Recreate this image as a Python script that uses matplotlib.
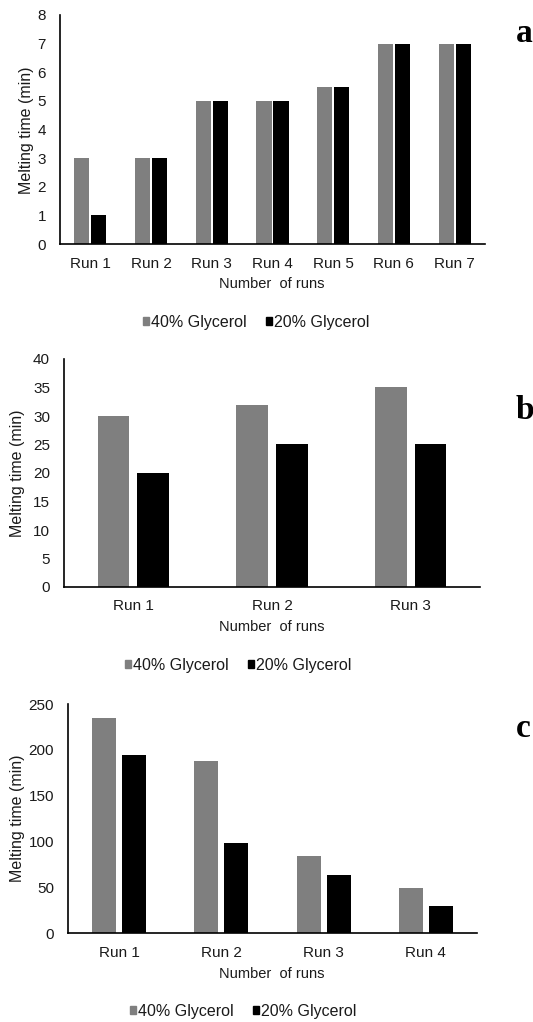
import matplotlib.pyplot as plt
from matplotlib.patches import Patch

plt.rcParams['font.family'] = ['Liberation Sans', 'DejaVu Sans']

# data
runs_a = ["Run 1", "Run 2", "Run 3", "Run 4", "Run 5", "Run 6", "Run 7"]
gly40_a = [3, 3, 5, 5, 5.5, 7, 7]
gly20_a = [1, 3, 5, 5, 5.5, 7, 7]

runs_b = ["Run 1", "Run 2", "Run 3"]
gly40_b = [30, 32, 35]
gly20_b = [20, 25, 25]

runs_c = ["Run 1", "Run 2", "Run 3", "Run 4"]
gly40_c = [235, 188, 84, 49]
gly20_c = [194, 98, 63, 30]

series_names = ["40% Glycerol", "20% Glycerol"]
yticks_a = [0, 1, 2, 3, 4, 5, 6, 7, 8]
yticks_b = [0, 5, 10, 15, 20, 25, 30, 35, 40]
yticks_c = [0, 50, 100, 150, 200, 250]

GRAY = "#7f7f7f"
BLACK = "#000000"
TXT = "#1a1a1a"
W, H = 533, 1022

fig = plt.figure(figsize=(W / 100, H / 100), dpi=100)


def px(x, y):
    # pixel position (from top-left) -> figure fraction
    return x / W, 1 - y / H


def panel(box, runs, v40, v20, yticks, bw, off, letter, letter_pos,
          ylab_pos, xlab_pos, leg_pos):
    left, top, right, bottom = box
    ax = fig.add_axes([left / W, 1 - bottom / H, (right - left) / W, (bottom - top) / H])
    x = list(range(len(runs)))
    ax.bar([i - off for i in x], v40, width=bw, color=GRAY)
    ax.bar([i + off for i in x], v20, width=bw, color=BLACK)
    ax.set_xlim(-0.5, len(runs) - 0.5)
    ax.set_ylim(yticks[0], yticks[-1])
    ax.set_yticks(yticks)
    ax.set_xticks(x)
    ax.set_xticklabels(runs)
    for s in ["top", "right"]:
        ax.spines[s].set_visible(False)
    for s in ["left", "bottom"]:
        ax.spines[s].set_linewidth(1.2)
        ax.spines[s].set_color("#000000")
    ax.tick_params(axis="both", length=0, labelsize=11, colors=TXT)
    ax.tick_params(axis="y", pad=10)
    ax.tick_params(axis="x", pad=9)

    ax.set_ylabel("Melting time (min)", fontsize=11.5, color=TXT)
    ax.yaxis.set_label_coords(*px(*ylab_pos), transform=fig.transFigure)
    ax.yaxis.label.set_verticalalignment("center")
    ax.set_xlabel("Number  of runs", fontsize=10.5, color=TXT)
    ax.xaxis.set_label_coords(*px(*xlab_pos), transform=fig.transFigure)

    handles = [Patch(color=GRAY), Patch(color=BLACK)]
    fig.legend(handles, series_names, loc="center", bbox_to_anchor=px(*leg_pos),
               ncol=2, frameon=False, fontsize=11.5, handlelength=0.4,
               handleheight=0.4, handletextpad=0.12, columnspacing=1.2,
               labelcolor=TXT, borderaxespad=0, borderpad=0)

    fig.text(*px(*letter_pos), letter, family="Liberation Serif",
             fontweight="bold", fontsize=24, ha="left", va="baseline")
    return ax


panel((60, 15, 485, 244), runs_a, gly40_a, gly20_a, yticks_a, 0.25, 0.14,
      "a", (516, 42), (27, 130), (272, 277), (256, 322))
panel((64, 359, 480, 587), runs_b, gly40_b, gly20_b, yticks_b, 0.23, 0.143,
      "b", (516, 419), (18, 473), (272, 620), (238, 665))
panel((68, 704, 477, 933), runs_c, gly40_c, gly20_c, yticks_c, 0.235, 0.147,
      "c", (516, 737), (18, 818), (272, 967), (243, 1011))

fig.savefig("out.png", dpi=100)
